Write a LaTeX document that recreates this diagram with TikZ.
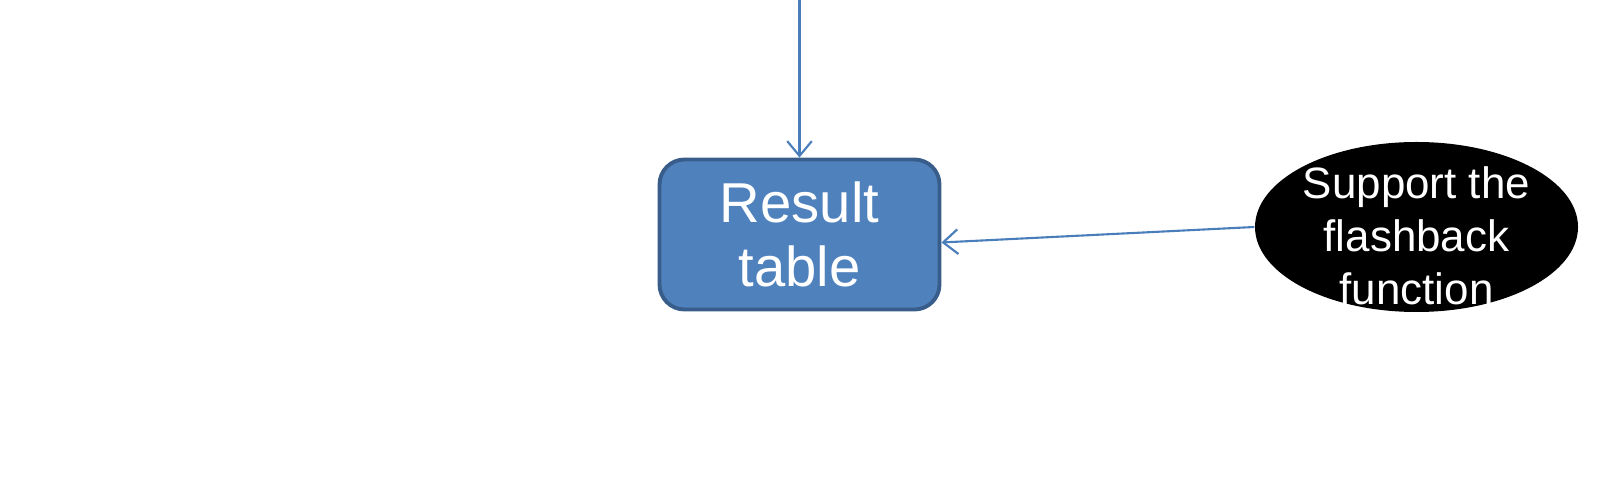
\documentclass[tikz,border=0pt]{standalone}
\usepackage{fontspec}
\setmainfont{Liberation Sans}
\usetikzlibrary{arrows.meta, shapes.geometric}
\definecolor{boxblue}{HTML}{4F81BD}
\definecolor{boxline}{HTML}{385D8A}
\definecolor{linkblue}{HTML}{4A7EBB}

\begin{document}
\begin{tikzpicture} [align=center,
    >={Straight Barb[length=4.2pt, width=7pt]},
    table/.style={rectangle, rounded corners=0.25cm, draw=boxline, line width=1.1pt,
        fill=boxblue, text=white, minimum width=2.8cm, minimum height=1.5cm,
        font=\fontsize{16}{18.3}\selectfont},
    goal/.style={ellipse, fill=black, minimum width=3.23cm, minimum height=1.7cm,
        inner sep=0pt},
    goaltext/.style={text=white, inner sep=0pt, font=\fontsize{12.5}{15}\selectfont},
    link/.style={->, draw=linkblue, line width=0.6pt}]
\useasboundingbox (0, 0) rectangle (16, -4.8);

\path (7.995, -2.345) node[table] (res) {Result\\table}
      (14.165, -2.27) node[goal] (flash) {}
      (14.165, -2.36) node[goaltext] (flashtxt) {Support the\\flashback\\function}
      (7.995, 0) coordinate (top);

\draw[link] (top) to (res.north);
\draw[link] (flash.west) to ([yshift=-0.08cm]res.east);

\end{tikzpicture}
\end{document}
